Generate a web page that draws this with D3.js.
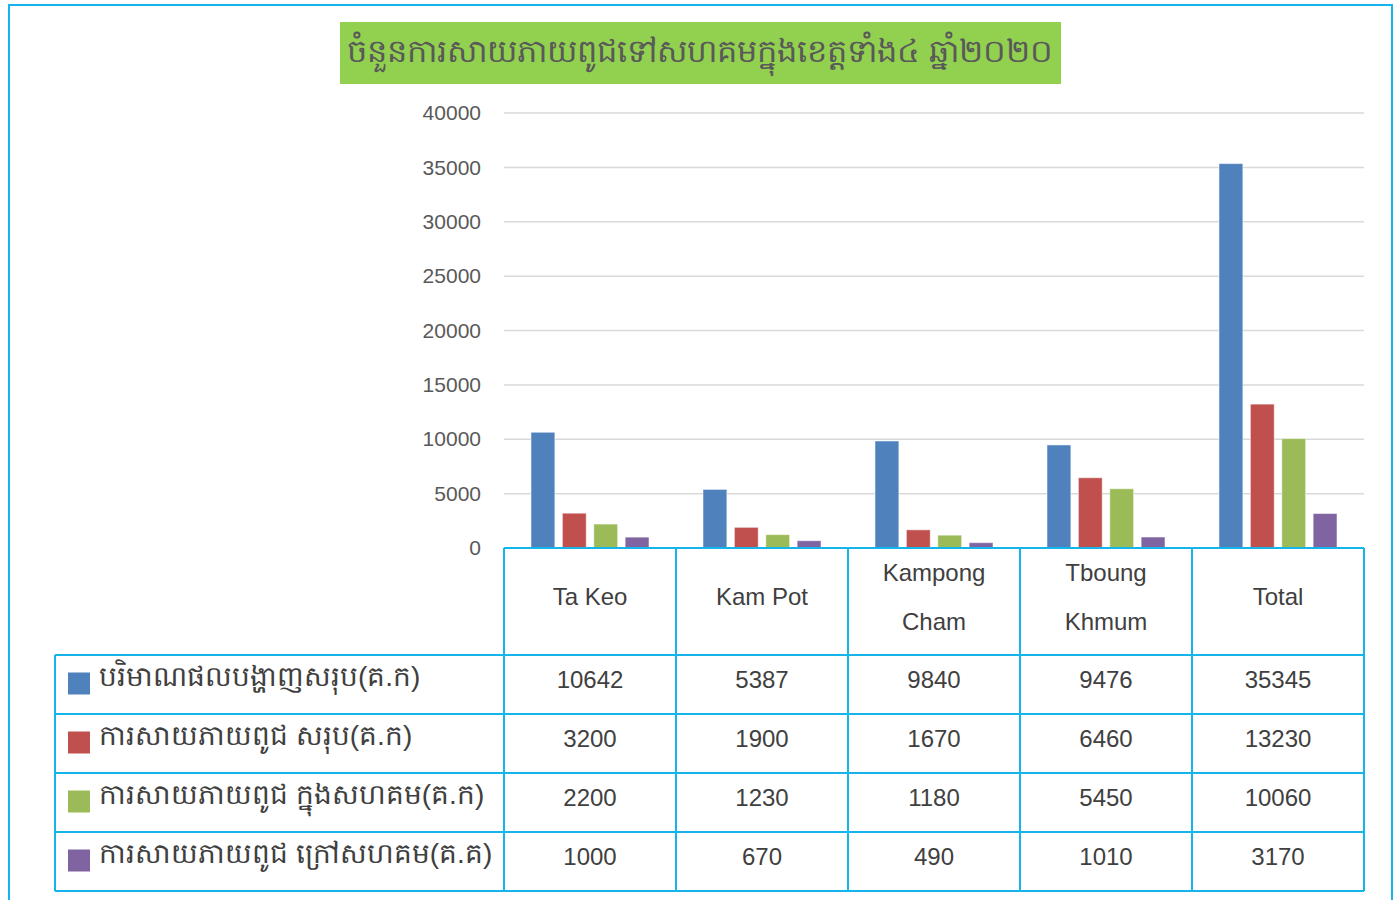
<!DOCTYPE html>
<html>
<head>
<meta charset="utf-8">
<script src="https://cdn.jsdelivr.net/npm/d3@7"></script>
<style>
  body { margin: 0; background: #fff; }
  text { font-family: "Liberation Sans", Arial, sans-serif; }
</style>
</head>
<body>
<div class="chart"></div>
<script>
var svgWidth = 1397;
var svgHeight = 900;

// data
var title = "ចំនួនការសាយភាយពូជទៅសហគមក្នុងខេត្តទាំង៤ ឆ្នាំ២០២០";
var categories = ["Ta Keo", "Kam Pot", "Kampong Cham", "Tboung Khmum", "Total"];
var categoryLines = [["Ta Keo"], ["Kam Pot"], ["Kampong", "Cham"], ["Tboung", "Khmum"], ["Total"]];
var seriesNames = [
  "បរិមាណផលបង្ហាញសរុប(គ.ក)",
  "ការសាយភាយពូជ សរុប(គ.ក)",
  "ការសាយភាយពូជ ក្នុងសហគម(គ.ក)",
  "ការសាយភាយពូជ ក្រៅសហគម(គ.គ)"
];
var totalProduced = [10642, 5387, 9840, 9476, 35345];
var totalDistributed = [3200, 1900, 1670, 6460, 13230];
var insideCommunity = [2200, 1230, 1180, 5450, 10060];
var outsideCommunity = [1000, 670, 490, 1010, 3170];
var seriesValues = [totalProduced, totalDistributed, insideCommunity, outsideCommunity];
var colors = ["#4f81bd", "#c0504d", "#9bbb59", "#8064a2"];
var yTicks = [0, 5000, 10000, 15000, 20000, 25000, 30000, 35000, 40000];

var plot = { left: 504, right: 1364, top: 113, bottom: 548 };
var headerBottom = 655;
var rowHeight = 59;
var tableLeft = 55;
var borderColor = "#13b5ea";

var svg = d3.select(".chart")
  .append("svg")
  .attr("width", svgWidth)
  .attr("height", svgHeight);

// outer frame
svg.append("rect")
  .attr("x", 9).attr("y", 5)
  .attr("width", 1383).attr("height", 900)
  .attr("fill", "none")
  .attr("stroke", borderColor)
  .attr("stroke-width", 2);

// title
svg.append("rect")
  .attr("x", 340).attr("y", 22)
  .attr("width", 721).attr("height", 62)
  .attr("fill", "#92d050");

svg.append("text")
  .attr("x", 700).attr("y", 51)
  .attr("text-anchor", "middle")
  .attr("dominant-baseline", "central")
  .attr("font-size", "32px")
  .attr("fill", "#595959")
  .text(title);

var x0 = d3.scaleBand()
  .domain(categories)
  .range([plot.left, plot.right]);

var x1 = d3.scaleBand()
  .domain(d3.range(seriesNames.length))
  .range([27, x0.bandwidth() - 27])
  .paddingInner(0.24);

var y = d3.scaleLinear()
  .domain([0, 40000])
  .range([plot.bottom, plot.top]);

// gridlines
svg.append("g")
  .selectAll("line")
  .data(yTicks)
  .enter()
  .append("line")
  .attr("x1", plot.left)
  .attr("x2", plot.right)
  .attr("y1", d => y(d))
  .attr("y2", d => y(d))
  .attr("stroke", "#d9d9d9")
  .attr("stroke-width", 1.5);

// y axis
var leftAxis = d3.axisLeft(y)
  .tickValues(yTicks)
  .tickFormat(d3.format("d"))
  .tickSize(0)
  .tickPadding(23);
var yAxis = svg.append("g")
  .attr("transform", `translate(${plot.left}, 0)`)
  .call(leftAxis);
yAxis.select(".domain").remove();
yAxis.selectAll("text")
  .attr("font-size", "21px")
  .attr("fill", "#595959")
  .attr("font-family", "'Liberation Sans', Arial, sans-serif");

// bars
var groups = svg.append("g")
  .selectAll("g")
  .data(categories)
  .enter()
  .append("g")
  .attr("transform", d => `translate(${x0(d)}, 0)`);

groups.selectAll("rect")
  .data((d, i) => seriesValues.map((vals, s) => ({ s: s, v: vals[i] })))
  .enter()
  .append("rect")
  .attr("x", d => x1(d.s))
  .attr("y", d => y(d.v))
  .attr("width", x1.bandwidth())
  .attr("height", d => y(0) - y(d.v))
  .attr("fill", d => colors[d.s])
  .attr("stroke", "#ffffff")
  .attr("stroke-opacity", 0.5)
  .attr("stroke-width", 1);

// data table
var table = svg.append("g");
var tableBottom = headerBottom + rowHeight * seriesNames.length;

// header cells
categories.forEach(function (c, i) {
  var lines = categoryLines[i];
  var cx = x0(c) + x0.bandwidth() / 2;
  var cy = (plot.bottom + headerBottom) / 2 - 5;
  lines.forEach(function (line, j) {
    table.append("text")
      .attr("x", cx)
      .attr("y", cy + (j - (lines.length - 1) / 2) * 49)
      .attr("text-anchor", "middle")
      .attr("dominant-baseline", "central")
      .attr("font-size", "24px")
      .attr("fill", "#404040")
      .text(line);
  });
});

// rows
seriesNames.forEach(function (name, s) {
  var top = headerBottom + s * rowHeight;
  var cy = top + rowHeight / 2 - 5;
  table.append("rect")
    .attr("x", 68).attr("y", cy - 7)
    .attr("width", 22).attr("height", 22)
    .attr("fill", colors[s]);
  table.append("text")
    .attr("x", 99).attr("y", cy - 3)
    .attr("dominant-baseline", "central")
    .attr("font-size", "28px")
    .attr("fill", "#404040")
    .text(name);
  categories.forEach(function (c, i) {
    table.append("text")
      .attr("x", x0(c) + x0.bandwidth() / 2)
      .attr("y", cy)
      .attr("text-anchor", "middle")
      .attr("dominant-baseline", "central")
      .attr("font-size", "24px")
      .attr("fill", "#404040")
      .text(seriesValues[s][i]);
  });
});

// table lines
var hLines = [];
hLines.push({ x1: plot.left, x2: plot.right, y: plot.bottom });
for (var r = 0; r <= seriesNames.length; r++) {
  hLines.push({ x1: tableLeft, x2: plot.right, y: headerBottom + r * rowHeight });
}
table.selectAll("line.h")
  .data(hLines)
  .enter()
  .append("line")
  .attr("class", "h")
  .attr("x1", d => d.x1).attr("x2", d => d.x2)
  .attr("y1", d => d.y).attr("y2", d => d.y)
  .attr("stroke", borderColor)
  .attr("stroke-width", 2);

var vLines = [{ x: tableLeft, y1: headerBottom }];
categories.forEach(function (c) { vLines.push({ x: x0(c), y1: plot.bottom }); });
vLines.push({ x: plot.right, y1: plot.bottom });
table.selectAll("line.v")
  .data(vLines)
  .enter()
  .append("line")
  .attr("class", "v")
  .attr("x1", d => d.x).attr("x2", d => d.x)
  .attr("y1", d => d.y1).attr("y2", tableBottom)
  .attr("stroke", borderColor)
  .attr("stroke-width", 2);
</script>
</body>
</html>
